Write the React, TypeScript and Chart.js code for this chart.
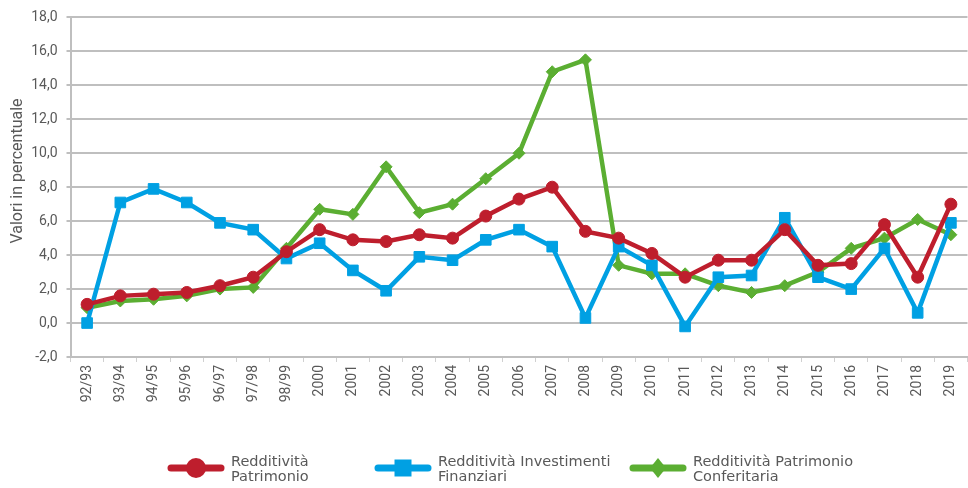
import React, { useEffect, useRef } from "react";
import { Chart, registerables } from "chart.js";

Chart.register(...registerables);

const categories = [
  "92/93", "93/94", "94/95", "95/96", "96/97", "97/98", "98/99",
  "2000", "2001", "2002", "2003", "2004", "2005", "2006", "2007", "2008", "2009",
  "2010", "2011", "2012", "2013", "2014", "2015", "2016", "2017", "2018", "2019",
];

const redditivitaPatrimonio = [
  1.1, 1.6, 1.7, 1.8, 2.2, 2.7, 4.2,
  5.5, 4.9, 4.8, 5.2, 5.0, 6.3, 7.3, 8.0, 5.4, 5.0,
  4.1, 2.7, 3.7, 3.7, 5.5, 3.4, 3.5, 5.8, 2.7, 7.0,
];

const redditivitaInvestimenti = [
  0.0, 7.1, 7.9, 7.1, 5.9, 5.5, 3.8,
  4.7, 3.1, 1.9, 3.9, 3.7, 4.9, 5.5, 4.5, 0.3, 4.5,
  3.4, -0.2, 2.7, 2.8, 6.2, 2.7, 2.0, 4.4, 0.6, 5.9,
];

const redditivitaConferitaria = [
  0.9, 1.3, 1.4, 1.6, 2.0, 2.1, 4.4,
  6.7, 6.4, 9.2, 6.5, 7.0, 8.5, 10.0, 14.8, 15.5, 3.4,
  2.9, 2.9, 2.2, 1.8, 2.2, 3.0, 4.4, 5.0, 6.1, 5.2,
];

const legendLabels = [
  ["Redditività", "Patrimonio"],
  ["Redditività Investimenti", "Finanziari"],
  ["Redditività Patrimonio", "Conferitaria"],
];

const yTitle = "Valori in percentuale";
const yMin = -2;
const yMax = 18;
const yStep = 2;

const RED = "#BE1E2D";
const BLUE = "#00A0E3";
const GREEN = "#5BAE32";
const TEXT = "#595959";
const GRID = "#BFBFBF";

const legendX = [168, 375, 630];
const legendY = 468;

const extrasPlugin = {
  id: "extras",
  afterDraw(chart: any) {
    const ctx = chart.ctx as CanvasRenderingContext2D;
    const datasets = chart.data.datasets;
    ctx.save();
    // y-axis title
    ctx.save();
    ctx.translate(18, 171);
    ctx.rotate(-Math.PI / 2);
    ctx.fillStyle = TEXT;
    ctx.font = "16px Roboto";
    ctx.textAlign = "center";
    ctx.textBaseline = "middle";
    ctx.fillText(yTitle, 0, 0);
    ctx.restore();
    // legend
    datasets.forEach((ds: any, i: number) => {
      const x0 = legendX[i];
      const x1 = x0 + 56;
      const cx = (x0 + x1) / 2;
      ctx.strokeStyle = ds.borderColor;
      ctx.fillStyle = ds.borderColor;
      ctx.lineWidth = 7;
      ctx.lineCap = "round";
      ctx.beginPath();
      ctx.moveTo(x0 + 3, legendY);
      ctx.lineTo(x1 - 3, legendY);
      ctx.stroke();
      ctx.beginPath();
      if (ds.pointStyle === "circle") {
        ctx.arc(cx, legendY, 10, 0, Math.PI * 2);
      } else if (ds.pointStyle === "rect") {
        ctx.rect(cx - 8.5, legendY - 8.5, 17, 17);
      } else {
        ctx.moveTo(cx, legendY - 10);
        ctx.lineTo(cx + 8, legendY);
        ctx.lineTo(cx, legendY + 10);
        ctx.lineTo(cx - 8, legendY);
        ctx.closePath();
      }
      ctx.fill();
      ctx.fillStyle = TEXT;
      ctx.font = "14.5px 'DejaVu Sans'";
      ctx.textBaseline = "alphabetic";
      ctx.textAlign = "left";
      legendLabels[i].forEach((t, j) => {
        ctx.fillText(t, x1 + 7, 466 + j * 15);
      });
    });
    ctx.restore();
  },
};

export default function App() {
  const ref = useRef<HTMLCanvasElement | null>(null);

  useEffect(() => {
    if (!ref.current) return;
    const chart = new Chart(ref.current, {
      type: "line",
      data: {
        labels: categories,
        datasets: [
          {
            label: legendLabels[0].join(" "),
            data: redditivitaPatrimonio,
            borderColor: RED,
            backgroundColor: RED,
            borderWidth: 4.5,
            pointStyle: "circle",
            pointRadius: 6,
            pointBorderWidth: 1,
            tension: 0,
          },
          {
            label: legendLabels[1].join(" "),
            data: redditivitaInvestimenti,
            borderColor: BLUE,
            backgroundColor: BLUE,
            borderWidth: 4.5,
            pointStyle: "rect",
            pointRadius: 7.5,
            pointBorderWidth: 1,
            tension: 0,
          },
          {
            label: legendLabels[2].join(" "),
            data: redditivitaConferitaria,
            borderColor: GREEN,
            backgroundColor: GREEN,
            borderWidth: 4.5,
            pointStyle: "rectRot",
            pointRadius: 6,
            pointBorderWidth: 1,
            tension: 0,
          },
        ],
      },
      options: {
        responsive: false,
        animation: false,
        devicePixelRatio: 1,
        layout: { padding: { top: 15, left: 0, right: 0, bottom: 0 } },
        plugins: {
          legend: { display: false },
          tooltip: { enabled: false },
        },
        scales: {
          x: {
            offset: true,
            grid: {
              display: true,
              drawOnChartArea: false,
              drawTicks: true,
              tickLength: 5,
              color: "#D0D0D0",
              lineWidth: 1,
              offset: true,
            },
            border: { display: true, color: GRID, width: 2 },
            ticks: {
              autoSkip: false,
              maxRotation: 90,
              minRotation: 90,
              font: { family: "Roboto", size: 14 },
              color: TEXT,
              padding: 3,
            },
            afterFit: (s: any) => {
              s.height = 131;
            },
          },
          y: {
            min: yMin,
            max: yMax,
            ticks: {
              stepSize: yStep,
              font: { family: "Roboto", size: 14 },
              color: TEXT,
              padding: 9,
              callback: (v: any) => Number(v).toFixed(1).replace(".", ","),
            },
            grid: { color: GRID, lineWidth: 2, tickLength: 4 },
            border: { display: true, color: GRID, width: 2 },
            afterFit: (s: any) => {
              s.width = 70.5;
            },
          },
        },
      },
      plugins: [extrasPlugin],
    });
    return () => chart.destroy();
  }, []);

  return (
    <div
      style={{
        position: "fixed",
        left: 0,
        top: 0,
        width: 968,
        height: 488,
        overflow: "hidden",
        background: "#fff",
      }}
    >
      <canvas ref={ref} width={976} height={488} style={{ width: 976, height: 488 }} />
    </div>
  );
}
